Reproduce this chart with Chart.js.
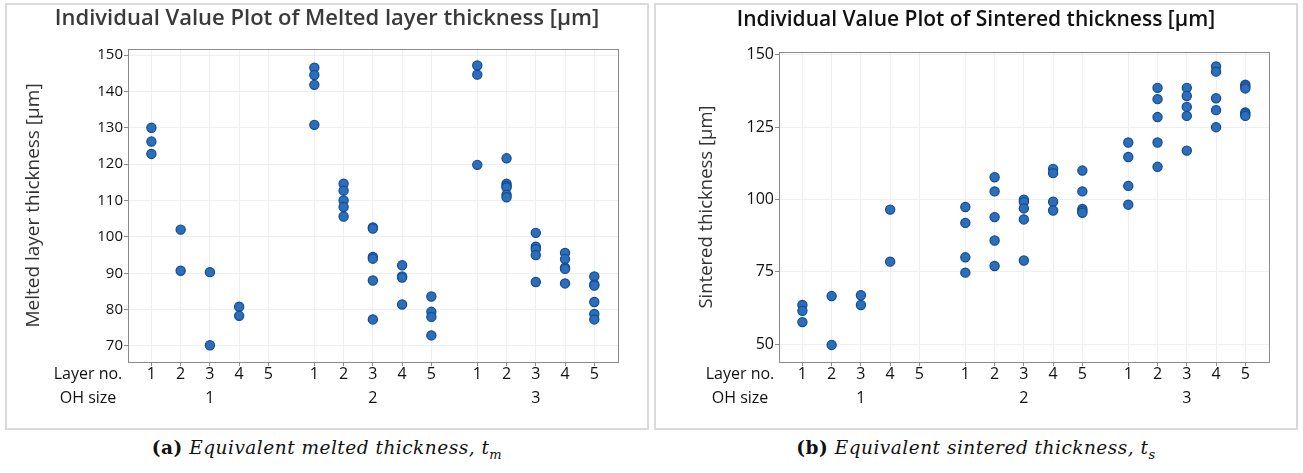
<!DOCTYPE html>
<html>
<head>
<meta charset="utf-8">
<script src="https://cdn.jsdelivr.net/npm/chart.js@4.4.0/dist/chart.umd.min.js"></script>
<style>
  body { margin: 0; background: #fff; width: 1303px; height: 473px; position: relative; overflow: hidden; }
  .panel { position: absolute; top: 3px; width: 640px; height: 423px; border: 2px solid #dadada; }
  .caption { position: absolute; top: 437px; width: 644px; text-align: center; letter-spacing: 0.5px;
             font-family: 'DejaVu Serif', serif; font-size: 18.5px; color: #111; }
  .caption sub { font-size: 13px; }
</style>
</head>
<body>
<div class="panel" style="left:5px"><canvas id="melted" width="640" height="423"></canvas></div>
<div class="panel" style="left:654px"><canvas id="sintered" width="640" height="423"></canvas></div>
<div class="caption" style="left:5px"><b>(a)</b> <i>Equivalent melted thickness, t<sub>m</sub></i></div>
<div class="caption" style="left:654px"><b>(b)</b> <i>Equivalent sintered thickness, t<sub>s</sub></i></div>
<script>
const layers = [1, 2, 3, 4, 5];
const ohSizes = [1, 2, 3];

// melted layer thickness [µm], one list per layer inside each OH size
const meltedOH1 = [[130.0, 126.2, 122.8], [102.0, 90.7], [90.3, 70.2], [80.8, 78.3], []];
const meltedOH2 = [[146.5, 144.5, 141.8, 130.8], [114.6, 112.7, 110.0, 108.2, 105.6],
                   [102.6, 102.3, 94.5, 94.0, 88.0, 77.3], [92.2, 89.1, 88.8, 81.4], [83.6, 79.4, 78.0, 72.9]];
const meltedOH3 = [[147.1, 144.6, 119.8], [121.6, 114.6, 114.0, 113.6, 111.6, 110.9],
                   [101.1, 97.3, 96.6, 95.0, 87.6], [95.6, 93.9, 91.5, 91.2, 87.2], [89.1, 86.9, 86.6, 82.1, 78.8, 77.3]];

// sintered thickness [µm]
const sinteredOH1 = [[63.5, 61.5, 57.6], [66.6, 49.7], [66.9, 63.5], [96.5, 78.5], []];
const sinteredOH2 = [[97.4, 91.9, 80.0, 74.7], [107.7, 102.8, 93.9, 85.8, 77.0], [99.9, 99.1, 96.9, 93.1, 78.9],
                     [110.6, 109.1, 99.2, 96.2], [110.0, 102.8, 96.7, 96.0, 95.4]];
const sinteredOH3 = [[119.7, 114.7, 104.7, 98.2], [138.6, 134.7, 128.5, 119.7, 111.3], [138.6, 135.8, 132.0, 128.9, 116.9],
                     [146.0, 144.2, 135.0, 130.9, 125.0], [139.7, 139.1, 138.4, 130.1, 129.6, 128.9]];

const meltedTicks = [70, 80, 90, 100, 110, 120, 130, 140, 150];
const sinteredTicks = [50, 75, 100, 125, 150];

// OH size groups sit side by side on a linear axis with a gap between them
const groupStep = 5.57;
const xPos = (g, layer) => g * groupStep + layer;

const slots = ohSizes.flatMap((oh, g) => layers.map(l => ({ x: xPos(g, l), layer: l, oh })));
const slotLabels = slots.map(s => [String(s.layer), s.layer === 3 ? String(s.oh) : '']);

const toPoints = groups => groups.flatMap((group, g) =>
  group.flatMap((vals, li) => vals.map(v => ({ x: xPos(g, layers[li]), y: v }))));

const FONT = 'Open Sans';
const LINE_H = 24;

const frame = {
  id: 'frame',
  beforeDatasetsDraw(chart) {
    const { ctx, chartArea: a } = chart;
    ctx.save();
    ctx.strokeStyle = '#8a8a8a';
    ctx.lineWidth = 1;
    ctx.strokeRect(Math.round(a.left) + 0.5, Math.round(a.top) + 0.5,
                   Math.round(a.right - a.left), Math.round(a.bottom - a.top));
    ctx.restore();
  }
};

// panel heading, centred on the whole canvas rather than the plot
const heading = {
  id: 'heading',
  afterDraw(chart, args, opts) {
    const { ctx } = chart;
    ctx.save();
    ctx.font = opts.weight + ' ' + opts.size + 'px "' + FONT + '"';
    ctx.fillStyle = opts.color;
    ctx.textAlign = 'center';
    ctx.textBaseline = 'middle';
    ctx.fillText(opts.text, chart.width / 2, opts.y);
    ctx.restore();
  }
};

// "Layer no." / "OH size" headers in front of the two label rows
const rowHeaders = {
  id: 'rowHeaders',
  afterDraw(chart, args, opts) {
    const sx = chart.scales.x;
    const { ctx } = chart;
    const y0 = sx.top + sx.options.grid.tickLength + sx.options.ticks.padding;
    ctx.save();
    ctx.font = '16px "' + FONT + '"';
    ctx.fillStyle = '#111';
    ctx.textAlign = 'center';
    ctx.textBaseline = 'middle';
    ['Layer no.', 'OH size'].forEach((t, i) => ctx.fillText(t, opts.x, y0 + LINE_H * (i + 0.5)));
    ctx.restore();
  }
};

function makeChart(id, cfg) {
  new Chart(document.getElementById(id), {
    type: 'scatter',
    data: {
      datasets: [{
        data: toPoints(cfg.groups),
        pointRadius: 4.6,
        pointHoverRadius: 4.6,
        backgroundColor: '#2e6db8',
        borderColor: '#0d4c98',
        borderWidth: 1.2
      }]
    },
    options: {
      responsive: false,
      animation: false,
      devicePixelRatio: 1,
      layout: { padding: { top: cfg.padTop, right: cfg.padRight, left: 0, bottom: 0 } },
      plugins: {
        legend: { display: false },
        tooltip: { enabled: false },
        heading: cfg.heading,
        rowHeaders: { x: cfg.headerX }
      },
      scales: {
        x: {
          type: 'linear',
          min: 0.2,
          max: 16.95,
          afterBuildTicks: s => { s.ticks = slots.map(p => ({ value: p.x })); },
          afterFit: s => { s.height = 66; },
          border: { display: false },
          grid: { color: '#efefef', tickLength: 4, tickColor: '#8a8a8a' },
          ticks: {
            autoSkip: false,
            maxRotation: 0,
            padding: -4,
            color: '#111',
            font: { family: FONT, size: 16, lineHeight: LINE_H / 16 },
            callback: (v, i) => slotLabels[i]
          }
        },
        y: {
          min: cfg.yMin,
          max: cfg.yMax,
          afterBuildTicks: s => { s.ticks = cfg.yTicks.map(v => ({ value: v })); },
          afterFit: s => { s.width = cfg.yWidth; },
          border: { display: false },
          grid: { color: '#efefef', tickLength: 4, tickColor: '#8a8a8a' },
          ticks: { padding: 1, color: '#111', font: { family: FONT, size: cfg.yTickSize } },
          title: {
            display: true,
            text: cfg.yTitle,
            color: '#333',
            font: { family: FONT, size: cfg.yTitleSize },
            padding: { top: cfg.yTitleOffset, bottom: 0 }
          }
        }
      }
    },
    plugins: [frame, heading, rowHeaders]
  });
}

makeChart('melted', {
  groups: [meltedOH1, meltedOH2, meltedOH3],
  heading: { text: 'Individual Value Plot of Melted layer thickness [μm]', color: '#3a3a3a', size: 22, weight: 600, y: 14 },
  padTop: 44,
  yTitle: 'Melted layer thickness [μm]',
  yTitleSize: 19,
  yTitleOffset: 15,
  yTickSize: 15,
  yTicks: meltedTicks,
  yMin: 65.6,
  yMax: 151.65,
  yWidth: 121,
  padRight: 29,
  headerX: 81
});

makeChart('sintered', {
  groups: [sinteredOH1, sinteredOH2, sinteredOH3],
  heading: { text: 'Individual Value Plot of Sintered thickness [μm]', color: '#111', size: 21, weight: 600, y: 15 },
  padTop: 47,
  yTitle: 'Sintered thickness [μm]',
  yTitleSize: 18.5,
  yTitleOffset: 40,
  yTickSize: 16,
  yTicks: sinteredTicks,
  yMin: 43.8,
  yMax: 151.0,
  yWidth: 123,
  padRight: 27,
  headerX: 84
});
</script>
</body>
</html>
